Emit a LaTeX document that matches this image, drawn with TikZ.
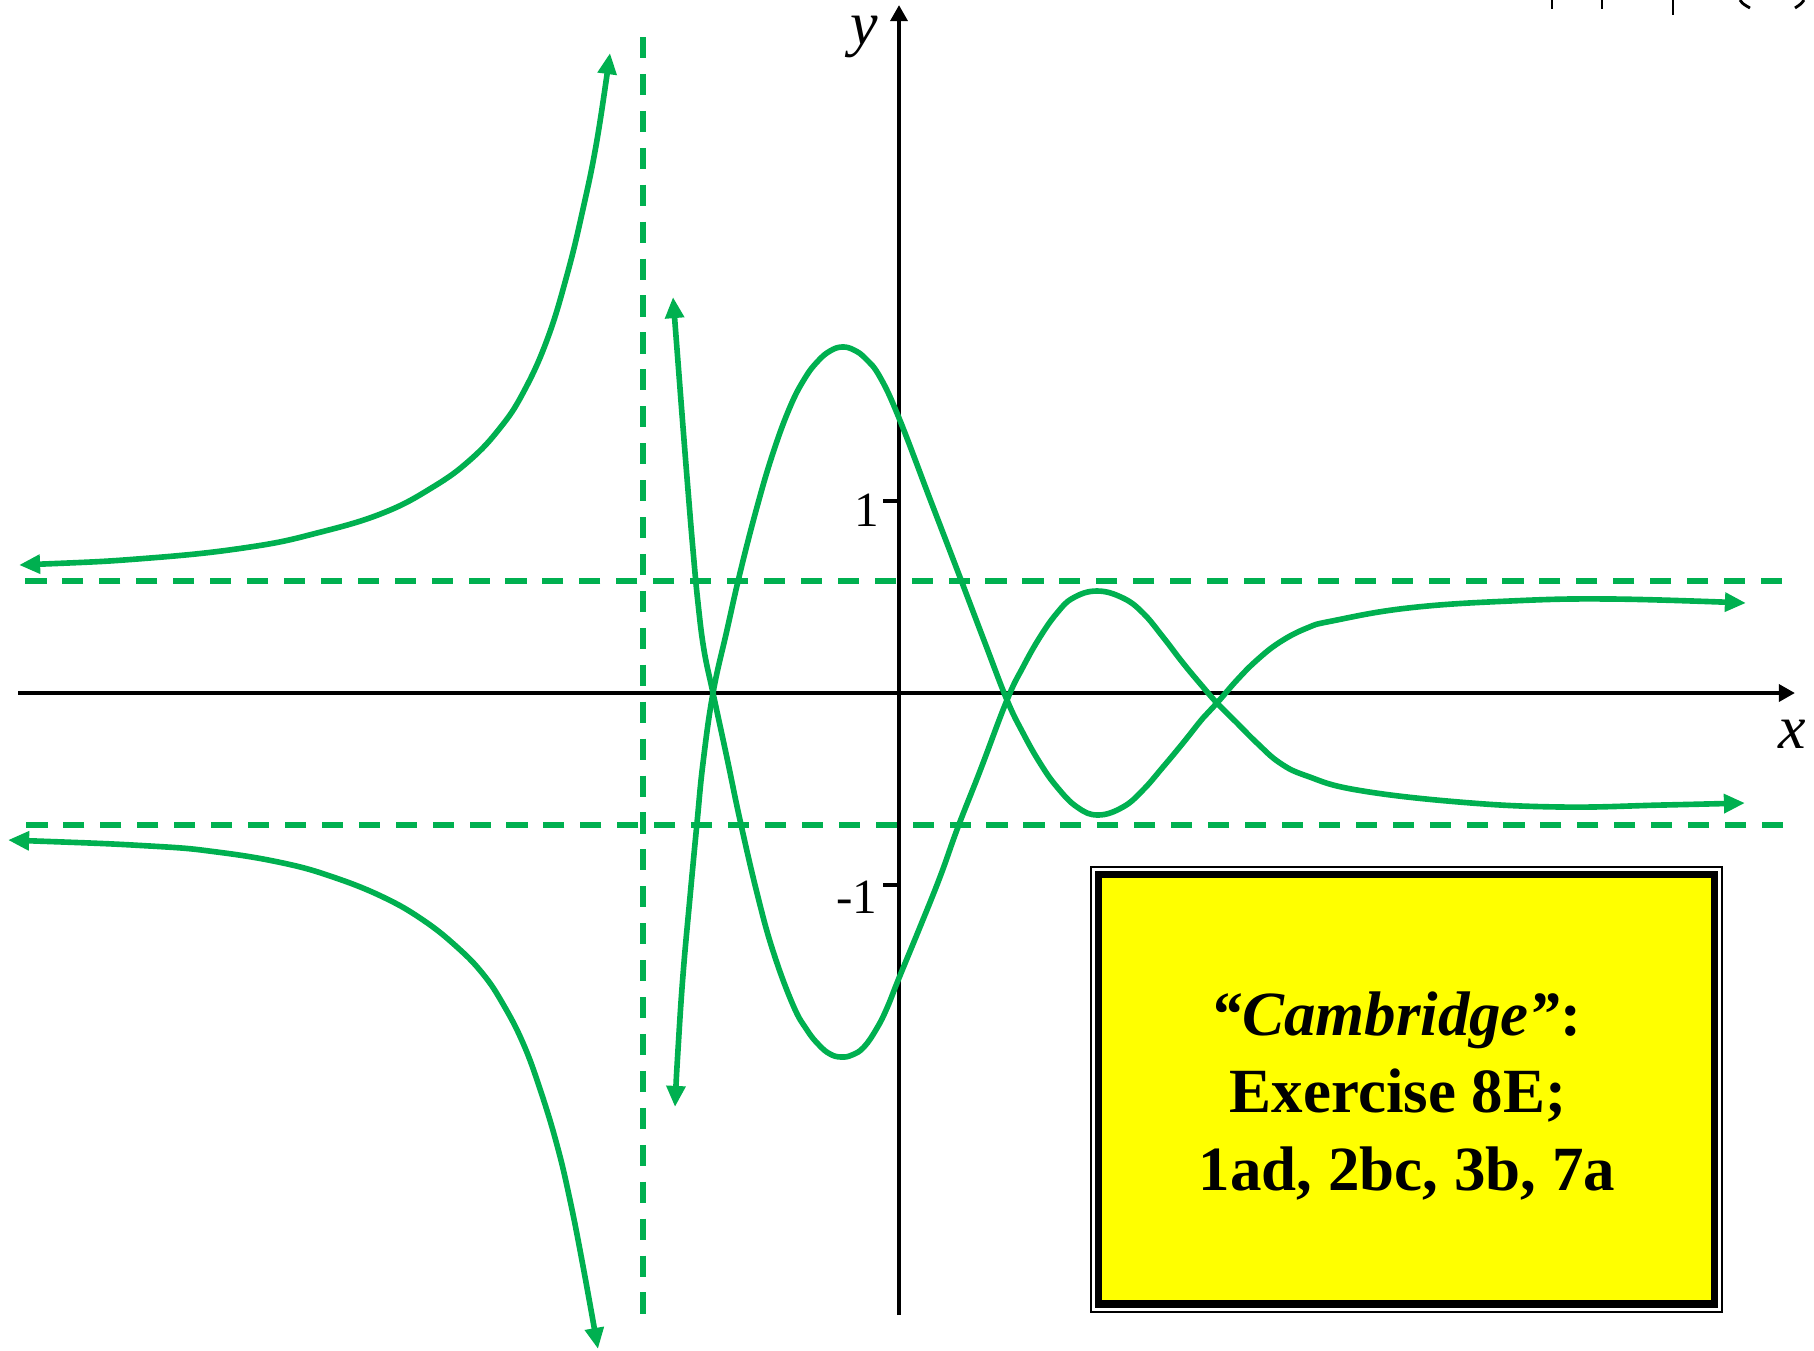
\documentclass[tikz,border=0pt]{standalone}
\usepackage{fontspec}
\setmainfont{Liberation Serif}
\usetikzlibrary{arrows.meta}
\definecolor{grn}{RGB}{0,176,80}
\definecolor{yel}{RGB}{255,255,0}
\begin{document}
\begin{tikzpicture}[x=0.01cm,y=-0.01cm,
  curve/.style={grn, line width=1.6pt, line join=round, {Triangle[length=6pt,width=5.2pt]}-{Triangle[length=6pt,width=5.2pt]}},
  asym/.style={grn, line width=1.7pt, dash pattern=on 6pt off 4.5pt},
  axis/.style={black, line width=1.3pt, -{Triangle[length=4.6pt,width=4.8pt]}},
  tickmark/.style={black, line width=1.1pt},
  numlbl/.style={font=\fontsize{14}{16}\selectfont, inner sep=0pt},
  axlbl/.style={font=\fontsize{17.6}{20}\selectfont\itshape, inner sep=0pt},
  boxtxt/.style={font=\fontsize{17.9}{22}\selectfont\bfseries, inner sep=0pt, anchor=base},
  frag/.style={black, line width=0.8pt}
]
\useasboundingbox (0,0) rectangle (1814,1350);

% axes
\coordinate (xs) at (18,693);
\coordinate (xe) at (1795,693);
\coordinate (ys) at (899,1315);
\coordinate (ye) at (899,5);
\draw[axis] (xs) -- (xe);
\draw[axis] (ys) -- (ye);
\node[axlbl] (xlab) at (1792,734) {x};
\node[axlbl] (ylab) at (864,37) {y};

% ticks
\coordinate (t1a) at (883,501); \coordinate (t1b) at (899,501);
\coordinate (t2a) at (883,885); \coordinate (t2b) at (899,885);
\draw[tickmark] (t1a) -- (t1b);
\draw[tickmark] (t2a) -- (t2b);
\node[numlbl] (one) at (867,510) {1};
\node[numlbl] (mone) at (857,897) {-1};

% asymptotes
\coordinate (va) at (643,37); \coordinate (vb) at (643,1318);
\coordinate (ha) at (1782,581); \coordinate (hb) at (19,581);
\coordinate (la) at (1783,825); \coordinate (lb) at (23,825);
\draw[asym] (va) -- (vb);
\draw[asym] (ha) -- (hb);
\draw[asym] (la) -- (lb);

% upper-left branch
\draw[curve] plot[smooth, tension=0.7] coordinates {(19,565) (150,558) (250,547) (317,533) (383,513) (433,487) (470,460) (500,428) (523,393) (547,340) (567,275) (583,209) (597,140) (610,53)};

% lower-left branch
\draw[curve] plot[smooth, tension=0.7] coordinates {(8,840) (150,846) (217,852) (283,863) (333,877) (383,897) (423,920) (457,947) (483,974) (503,1004) (523,1043) (540,1089) (557,1145) (570,1200) (583,1266) (598,1349)};

% curve P
\draw[curve] plot[smooth, tension=0.7] coordinates {(673,297) (678,362) (683,427) (688,490) (693,550) (698,603) (704,650) (713,693) (727,758) (740,820) (757,893) (773,951) (793,1005) (807,1030) (819,1045) (830,1054) (841,1057) (852,1055) (864,1047) (877,1028) (887,1008) (899,978) (920,927) (940,877) (958,827) (980,771) (1007,700) (1023,667) (1040,637) (1057,613) (1073,598) (1097,591) (1123,598) (1143,613) (1163,637) (1183,663) (1203,687) (1217,703) (1237,723) (1257,743) (1280,763) (1307,776) (1357,790) (1459,802) (1561,807) (1663,805) (1745,803)};

% curve Q
\draw[curve] plot[smooth, tension=0.7] coordinates {(675,1107) (678,1050) (683,975) (690,897) (697,823) (703,763) (713,693) (727,630) (740,573) (757,507) (773,453) (790,407) (805,378) (818,361) (830,351) (842,347) (854,350) (866,359) (880,377) (899,418) (930,499) (958,572) (985,643) (1007,700) (1023,733) (1040,763) (1057,787) (1077,807) (1098,815) (1123,807) (1143,790) (1163,767) (1183,743) (1203,718) (1217,703) (1237,680) (1257,660) (1280,642) (1307,628) (1332,621) (1408,608) (1510,601) (1612,599) (1746,603)};

% box
\coordinate (bo1) at (1091,867); \coordinate (bo2) at (1722,1312);
\coordinate (bi1) at (1098.5,874.5); \coordinate (bi2) at (1714.5,1304);
\draw[black, line width=0.5pt] (bo1) rectangle (bo2);
\draw[black, line width=2.1pt, fill=yel] (bi1) rectangle (bi2);
\node[boxtxt] (l1) at (1396,1035) {\textit{“Cambridge”}:};
\node[boxtxt] (l2) at (1398,1112) {Exercise 8E;};
\node[boxtxt] (l3) at (1407,1190) {1ad, 2bc, 3b, 7a};

% clipped fragments at top right
\draw[frag] (1552,0) -- (1552,9);
\draw[frag] (1602,0) -- (1602,9);
\draw[frag] (1673,0) -- (1673,15);
\draw[frag] (1740,0) .. controls (1743,4) .. (1750,8);
\draw[frag] (1804,0) .. controls (1801,4) .. (1795,8);
\end{tikzpicture}
\end{document}
